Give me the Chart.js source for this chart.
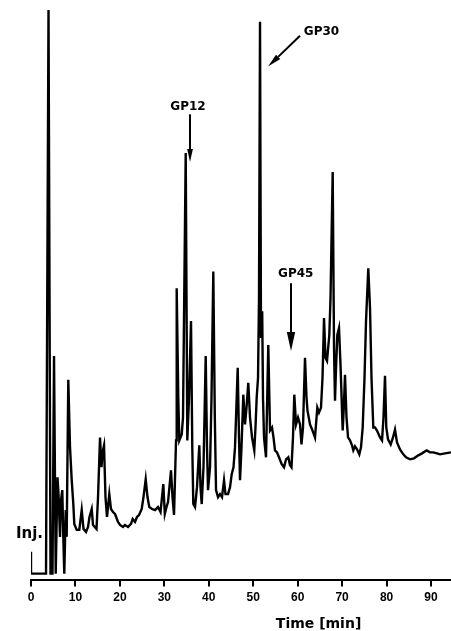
<!DOCTYPE html>
<html>
<head>
<meta charset="utf-8">
<script src="https://cdn.jsdelivr.net/npm/chart.js@4"></script>
<style>
  html, body { margin: 0; padding: 0; background: #fff; }
  #wrap { width: 451px; height: 631px; }
</style>
</head>
<body>
<div id="wrap"><canvas id="c" width="451" height="631"></canvas></div>
<script>
// Retention time (min)
const times = [
  0, 0, 3.38, 3.94, 4.39, 4.84, 5.18, 5.56, 5.96, 6.19,
  6.53, 6.75, 7.04, 7.27, 7.49, 7.81, 8.03, 8.39, 8.78, 9.16,
  9.52, 9.74, 10.28, 10.87, 11.41, 11.81, 12.38, 12.83, 13.16, 13.66,
  13.95, 14.74, 15.08, 15.53, 15.86, 16.09, 16.43, 16.76, 17.10, 17.62,
  18.00, 18.45, 18.90, 19.58, 20.03, 20.70, 21.15, 21.83, 22.50, 22.88,
  23.40, 23.85, 24.30, 24.91, 25.31, 25.81, 26.21, 26.62, 27.23, 27.90,
  28.58, 29.14, 29.77, 30.11, 30.49, 30.83, 31.50, 31.84, 32.18, 32.63,
  32.78, 33.14, 33.37, 33.91, 34.20, 34.81, 35.17, 35.55, 36.00, 36.29,
  36.52, 36.90, 37.35, 37.87, 38.14, 38.41, 38.81, 39.31, 39.60, 39.83,
  40.28, 40.61, 41.02, 41.36, 41.63, 42.08, 42.53, 42.98, 43.43, 43.76,
  44.33, 44.78, 45.16, 45.56, 45.90, 46.51, 46.80, 47.03, 47.36, 47.77,
  48.15, 48.49, 48.89, 49.28, 49.73, 50.24, 50.51, 50.78, 51.08, 51.30,
  51.53, 51.75, 52.02, 52.20, 52.43, 52.88, 53.39, 53.78, 54.23, 54.56,
  54.90, 55.35, 55.80, 56.41, 56.93, 57.38, 57.89, 58.28, 58.61, 58.95,
  59.24, 59.63, 60.08, 60.53, 60.86, 61.20, 61.65, 61.99, 62.21, 62.78,
  63.34, 63.90, 64.42, 64.80, 65.25, 65.59, 65.93, 66.26, 66.60, 67.12,
  67.39, 67.88, 68.18, 68.40, 68.63, 68.92, 69.30, 69.64, 70.13, 70.38,
  70.65, 70.99, 71.33, 71.78, 72.23, 72.52, 72.90, 73.35, 73.87, 74.25,
  74.63, 75.04, 75.38, 75.89, 76.28, 76.61, 77.02, 77.40, 77.85, 78.53,
  78.98, 79.31, 79.65, 79.94, 80.33, 80.93, 81.45, 81.90, 82.35, 83.03,
  83.77, 84.38, 85.28, 86.18, 87.14, 87.98, 89.03, 89.78, 90.52, 91.35,
  92.03, 93.15, 94.50
];

// Detector response (arbitrary units)
const response = [
  22, 0, 0, 567, 0, 0, 219, 0, 97, 80,
  37, 74, 84, 37, 0, 64, 37, 195, 127, 94,
  70, 50, 44, 44, 64, 45, 42, 47, 57, 65,
  49, 45, 77, 137, 107, 122, 129, 77, 57, 80,
  65, 62, 60, 52, 49, 47, 49, 47, 50, 55,
  52, 57, 59, 65, 77, 95, 77, 67, 65, 64,
  67, 62, 90, 60, 67, 72, 104, 77, 59, 134,
  287, 177, 134, 140, 157, 423, 134, 177, 254, 127,
  70, 67, 87, 129, 87, 70, 107, 219, 127, 84,
  107, 177, 304, 157, 84, 77, 80, 77, 94, 80,
  80, 87, 100, 107, 127, 207, 137, 94, 127, 180,
  150, 167, 192, 157, 137, 124, 147, 177, 197, 277,
  555, 237, 264, 177, 137, 117, 230, 144, 147, 137,
  124, 122, 117, 110, 107, 115, 117, 109, 107, 137,
  180, 150, 157, 150, 130, 147, 217, 177, 164, 150,
  144, 137, 167, 162, 167, 197, 257, 217, 214, 240,
  277, 404, 227, 174, 207, 240, 247, 210, 144, 167,
  200, 157, 137, 134, 129, 124, 128, 125, 120, 127,
  147, 197, 254, 307, 267, 197, 147, 147, 144, 137,
  134, 157, 199, 147, 135, 130, 137, 145, 132, 125,
  120, 117, 115, 116, 119, 121, 124, 122, 122, 121,
  120, 121, 122
];

const tickValues = [0, 10, 20, 30, 40, 50, 60, 70, 80, 90];
const peakLabels = ['GP12', 'GP30', 'GP45'];
const injectionLabel = 'Inj.';
const axisTitle = 'Time [min]';

// Annotation placement (data coordinates: time, response)
const peakLabelPos = [
  { tx: 35.33, ty: 470, ax0: 35.78, ay0: 462, ax1: 35.78, ay1: 414, head: 13 },
  { tx: 65.36, ty: 545, ax0: 60.53, ay0: 541, ax1: 53.33, ay1: 510, head: 14 },
  { tx: 59.56, ty: 302, ax0: 58.50, ay0: 292, ax1: 58.50, ay1: 224, head: 19 }
];
const injectionPos = { tx: 2.7, ty: 36 };
const axisTitlePos = { tx: 64.7 };

const points = times.map((t, i) => ({ x: t, y: response[i] }));

function arrow(ctx, x0, y0, x1, y1, head) {
  const ang = Math.atan2(y1 - y0, x1 - x0);
  const hw = head * 0.22;
  const bx = x1 - head * Math.cos(ang), by = y1 - head * Math.sin(ang);
  ctx.beginPath();
  ctx.moveTo(x0, y0);
  ctx.lineTo(bx, by);
  ctx.lineWidth = 2;
  ctx.strokeStyle = '#000';
  ctx.stroke();
  ctx.beginPath();
  ctx.moveTo(x1, y1);
  ctx.lineTo(bx + hw * Math.sin(ang), by - hw * Math.cos(ang));
  ctx.lineTo(bx - hw * Math.sin(ang), by + hw * Math.cos(ang));
  ctx.closePath();
  ctx.fillStyle = '#000';
  ctx.fill();
}

const annotate = {
  id: 'annotate',
  afterDraw(chart) {
    const ctx = chart.ctx;
    const xs = chart.scales.x, ys = chart.scales.y;
    ctx.save();
    ctx.fillStyle = '#000';
    ctx.textAlign = 'center';
    ctx.textBaseline = 'middle';
    ctx.font = 'bold 12px "DejaVu Sans"';
    peakLabels.forEach((lab, i) => {
      const p = peakLabelPos[i];
      ctx.fillText(lab, xs.getPixelForValue(p.tx), ys.getPixelForValue(p.ty));
      arrow(ctx, xs.getPixelForValue(p.ax0), ys.getPixelForValue(p.ay0),
                 xs.getPixelForValue(p.ax1), ys.getPixelForValue(p.ay1), p.head);
    });
    ctx.font = 'bold 15px "DejaVu Sans"';
    ctx.textAlign = 'right';
    ctx.textBaseline = 'alphabetic';
    ctx.fillText(injectionLabel, xs.getPixelForValue(injectionPos.tx), ys.getPixelForValue(injectionPos.ty));
    ctx.font = 'bold 14px "DejaVu Sans"';
    ctx.textAlign = 'center';
    ctx.fillText(axisTitle, xs.getPixelForValue(axisTitlePos.tx), chart.height - 3);
    ctx.restore();
  }
};

new Chart(document.getElementById('c'), {
  type: 'line',
  data: {
    datasets: [{
      data: points,
      borderColor: '#000',
      borderWidth: 2.4,
      pointRadius: 0,
      tension: 0,
      fill: false
    }]
  },
  options: {
    responsive: false,
    animation: false,
    devicePixelRatio: 1,
    layout: { padding: { left: 31, right: 0, top: 0, bottom: 22 } },
    plugins: { legend: { display: false }, tooltip: { enabled: false } },
    scales: {
      x: {
        type: 'linear',
        min: 0,
        max: 94.5,
        afterBuildTicks: (scale) => { scale.ticks = tickValues.map(v => ({ value: v })); },
        grid: { display: true, drawOnChartArea: false, drawTicks: true, tickLength: 7, color: '#000', lineWidth: 2 },
        border: { display: true, color: '#000', width: 2 },
        ticks: {
          color: '#000',
          padding: 4,
          maxRotation: 0,
          autoSkip: false,
          font: { family: '"Liberation Sans", Arial', size: 12, weight: 'bold' }
        }
      },
      y: {
        display: false,
        min: -6,
        max: 577
      }
    }
  },
  plugins: [annotate]
});
</script>
</body>
</html>
